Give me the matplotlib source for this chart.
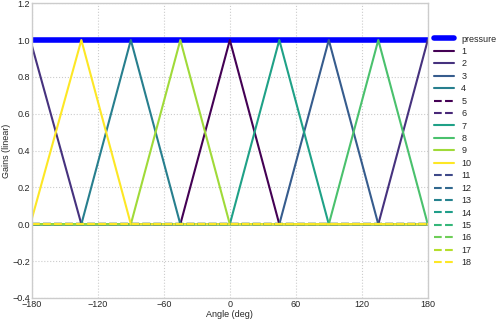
import numpy as np
import matplotlib.pyplot as plt

# speaker gains sampled at the 45 degree nodes
angles = [-180, -135, -90, -45, 0, 45, 90, 135, 180]
pressure = [1, 1, 1, 1, 1, 1, 1, 1, 1]
gains = {
    1: [0, 0, 0, 0, 1, 0, 0, 0, 0],
    2: [0.97, 0, 0, 0, 0, 0, 0, 0, 1],
    3: [0, 0, 0, 0, 0, 0, 1, 0, 0],
    4: [0, 0, 1, 0, 0, 0, 0, 0, 0],
    7: [0, 0, 0, 0, 0, 1, 0, 0, 0],
    8: [0, 0, 0, 0, 0, 0, 0, 1, 0],
    9: [0, 0, 0, 1, 0, 0, 0, 0, 0],
    10: [0.03, 1, 0, 0, 0, 0, 0, 0, 0],
}
active = [1, 2, 3, 4, 7, 8, 9, 10]
silent = [5, 6, 11, 12, 13, 14, 15, 16, 17, 18]
channels = list(range(1, 19))

plt.style.use('seaborn-v0_8-whitegrid')
plt.rcParams['font.family'] = ['Liberation Sans', 'DejaVu Sans']
plt.rcParams['font.size'] = 7

fig = plt.figure(figsize=(4.98, 3.21), dpi=100)
ax = fig.add_axes([0.064, 0.072, 0.795, 0.918])

ax.plot(angles, pressure, color='#0000ff', linewidth=4, label='pressure')

act_cols = plt.cm.viridis(np.linspace(0, 1, len(active)))
sil_cols = plt.cm.viridis(np.linspace(0, 1, len(silent)))
for ch in channels:
    if ch in active:
        ax.plot(angles, gains[ch], color=act_cols[active.index(ch)],
                linewidth=1.5, label=str(ch))
    else:
        ax.plot(angles, np.zeros(len(angles)), color=sil_cols[silent.index(ch)],
                linewidth=1.5, linestyle='--', label=str(ch))

ax.set_xlim(-180, 180)
ax.set_ylim(-0.4, 1.2)
ax.set_xticks([-180, -120, -60, 0, 60, 120, 180])
ax.set_xlabel('Angle (deg)', labelpad=1, fontsize=6.5)
ax.set_ylabel('Gains (linear)', labelpad=1, fontsize=6.5)
ax.grid(True, linestyle=':', color='#cccccc', linewidth=0.8)
for s in ax.spines.values():
    s.set_color('#cccccc')
    s.set_linewidth(1)
ax.tick_params(labelsize=6.5, pad=1.5, length=0)

ax.legend(loc='upper left', bbox_to_anchor=(1.0, 0.915), frameon=False,
          fontsize=6.5, handlelength=2.2, labelspacing=0.38, borderaxespad=0.3)

fig.savefig('out.png', dpi=100)
